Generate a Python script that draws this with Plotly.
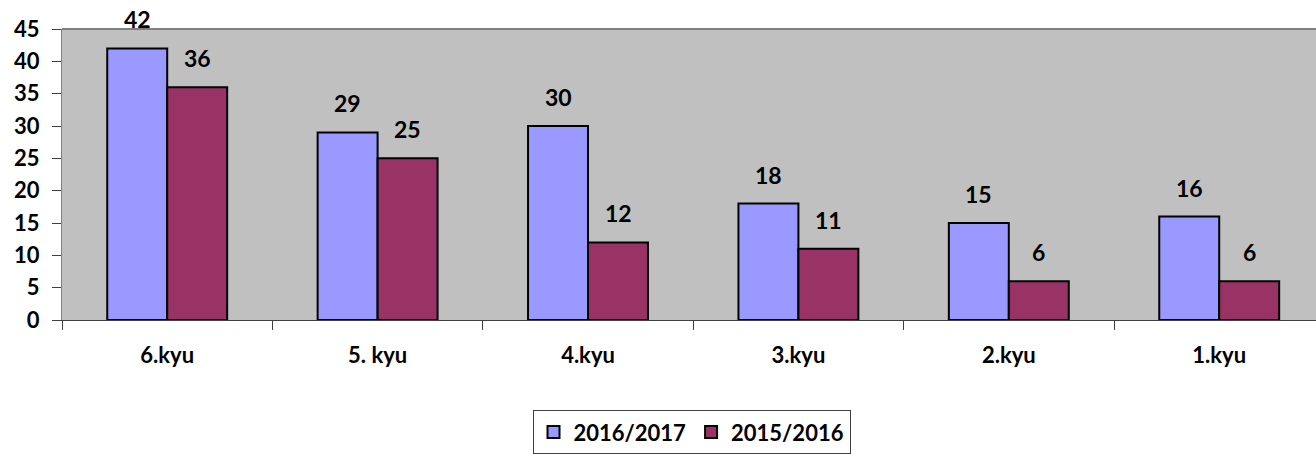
import plotly.graph_objects as go

categories = ["6.kyu", "5. kyu", "4.kyu", "3.kyu", "2.kyu", "1.kyu"]
series_2016_2017 = [42, 29, 30, 18, 15, 16]
series_2015_2016 = [36, 25, 12, 11, 6, 6]
series_names = ["2016/2017", "2015/2016"]
y_ticks = [0, 5, 10, 15, 20, 25, 30, 35, 40, 45]

FONT = "Lato"
colors = ["#9999FF", "#993366"]

fig = go.Figure()
for name, vals, col in zip(series_names, [series_2016_2017, series_2015_2016], colors):
    fig.add_trace(go.Bar(
        x=categories, y=vals, name=name,
        marker=dict(color=col, line=dict(color="black", width=2)),
    ))

for vals, shift in [(series_2016_2017, -30), (series_2015_2016, 30)]:
    for c, v in zip(categories, vals):
        fig.add_annotation(x=c, y=v, text=str(v), showarrow=False,
                           xshift=shift, yshift=13, yanchor="bottom",
                           font=dict(family=FONT, size=23, color="black", weight="bold"))

fig.update_layout(
    width=1316, height=458,
    margin=dict(l=62, r=0, t=29, b=138),
    paper_bgcolor="white", plot_bgcolor="#C0C0C0",
    barmode="group", bargap=0.43, bargroupgap=0,
    font=dict(family=FONT, size=22, color="black", weight="bold"),
    showlegend=True,
    legend=dict(orientation="h", x=0.502, xanchor="center", y=-0.31, yanchor="top",
                bordercolor="#404040", borderwidth=1, bgcolor="white",
                font=dict(family=FONT, size=22, color="black", weight="bold"),
                itemsizing="constant", itemwidth=30),
    xaxis=dict(range=[-0.5, 5.46], showgrid=False, showline=True, linecolor="#404040",
               linewidth=1, ticks="outside", tickson="boundaries", ticklen=9,
               tickcolor="#404040", tickfont=dict(family=FONT, size=22, weight="bold"),
               ticklabelstandoff=16, zeroline=False),
    yaxis=dict(range=[0, 45], tickvals=y_ticks, showgrid=False, showline=True,
               linecolor="#808080", linewidth=1, mirror=False, ticks="outside", ticklen=9,
               tickcolor="#404040", tickfont=dict(family=FONT, size=22, weight="bold"),
               ticklabelstandoff=8, zeroline=False),
)
fig.add_shape(type="line", xref="paper", yref="paper", x0=0, x1=1, y0=1, y1=1,
              line=dict(color="#808080", width=2))

fig.write_html("out.html")
